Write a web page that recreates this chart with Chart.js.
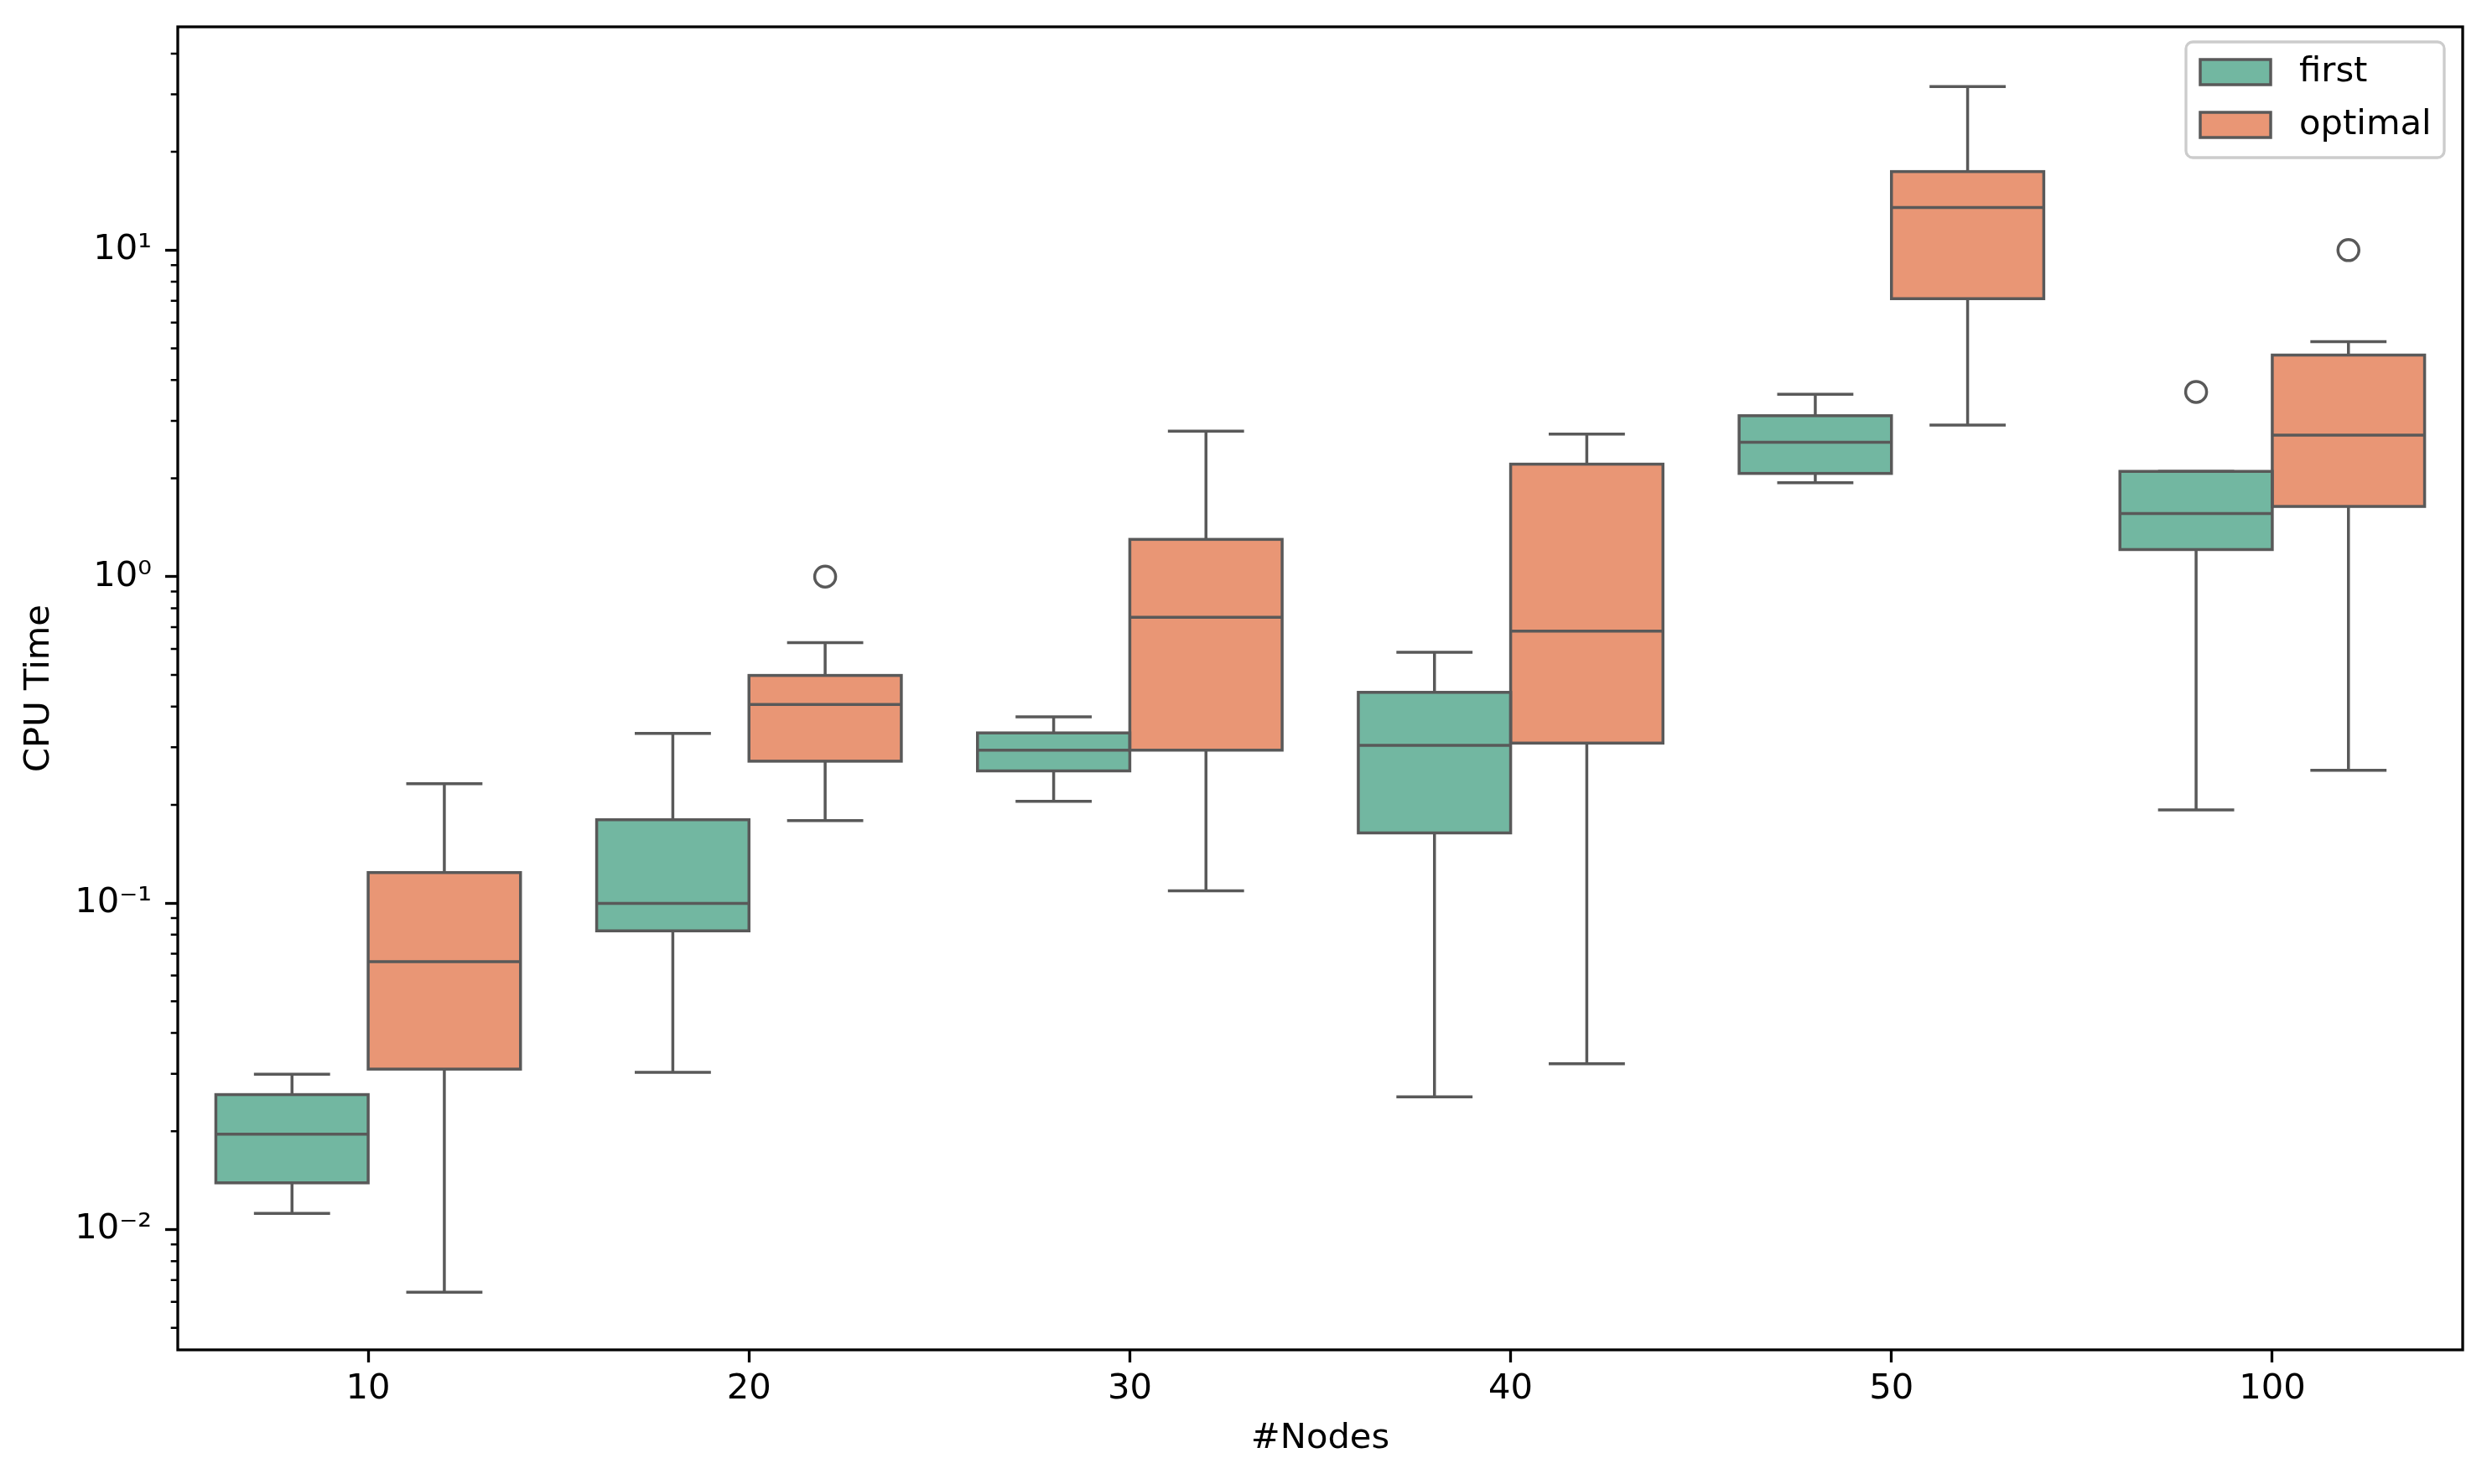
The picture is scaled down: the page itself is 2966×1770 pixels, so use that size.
<!DOCTYPE html>
<html>
<head>
<meta charset="utf-8">
<script src="https://cdn.jsdelivr.net/npm/chart.js@4.4.1/dist/chart.umd.min.js"></script>
<style>
  body { margin: 0; background: #fff; }
  canvas { display: block; }
</style>
</head>
<body>
<canvas id="cpuChart" width="2966" height="1770"></canvas>
<script>
// categories on the x axis
const categories = ['10', '20', '30', '40', '50', '100'];
const seriesNames = ['first', 'optimal'];

// "first" series: whisker low, Q1, median, Q3, whisker high, outliers
const firstLow  = [0.0112, 0.0303, 0.205, 0.0255, 1.94, 0.193];
const firstQ1   = [0.0139, 0.0822, 0.254, 0.164, 2.07, 1.21];
const firstMed  = [0.0196, 0.0998, 0.294, 0.304, 2.58, 1.56];
const firstQ3   = [0.0259, 0.180, 0.332, 0.442, 3.11, 2.10];
const firstHigh = [0.0299, 0.331, 0.372, 0.586, 3.62, 2.10];
const firstOut  = [[], [], [], [], [], [3.68]];

// "optimal" series
const optLow  = [0.00643, 0.179, 0.109, 0.0322, 2.91, 0.255];
const optQ1   = [0.0310, 0.272, 0.294, 0.309, 7.10, 1.64];
const optMed  = [0.0661, 0.406, 0.751, 0.681, 13.5, 2.71];
const optQ3   = [0.124, 0.498, 1.30, 2.21, 17.4, 4.77];
const optHigh = [0.232, 0.628, 2.79, 2.73, 31.7, 5.24];
const optOut  = [[], [1.0], [], [], [], [10.0]];

// y axis (log)
const yTickValues = [0.01, 0.1, 1, 10];
const yTickLabels = ['10\u207B\u00B2', '10\u207B\u00B9', '10\u2070', '10\u00B9'];
const yMin = 0.00428;
const yMax = 48.3;

const fillColors = ['#72b7a1', '#e99675'];
const lineColor = '#595959';
const fontSize = 41.7;
const fontFamily = '"DejaVu Sans", sans-serif';

const stats = [
    { low: firstLow, q1: firstQ1, med: firstMed, q3: firstQ3, high: firstHigh, out: firstOut },
    { low: optLow, q1: optQ1, med: optMed, q3: optQ3, high: optHigh, out: optOut }
];

// whiskers, box outlines, medians and fliers on top of the floating bars
const boxPlot = {
    id: 'boxPlot',
    afterDatasetsDraw(chart) {
        const ctx = chart.ctx;
        const y = chart.scales.y;
        ctx.save();
        ctx.strokeStyle = lineColor;
        ctx.lineWidth = 3.5;
        ctx.lineCap = 'butt';
        stats.forEach((s, di) => {
            chart.getDatasetMeta(di).data.forEach((bar, i) => {
                const x = bar.x;
                const half = bar.width / 2;
                const cap = half / 2;
                const pLow = y.getPixelForValue(s.low[i]);
                const pQ1 = y.getPixelForValue(s.q1[i]);
                const pMed = y.getPixelForValue(s.med[i]);
                const pQ3 = y.getPixelForValue(s.q3[i]);
                const pHigh = y.getPixelForValue(s.high[i]);
                ctx.beginPath();
                ctx.moveTo(x, pQ3); ctx.lineTo(x, pHigh);
                ctx.moveTo(x - cap, pHigh); ctx.lineTo(x + cap, pHigh);
                ctx.moveTo(x, pQ1); ctx.lineTo(x, pLow);
                ctx.moveTo(x - cap, pLow); ctx.lineTo(x + cap, pLow);
                ctx.stroke();
                ctx.strokeRect(x - half, pQ3, half * 2, pQ1 - pQ3);
                ctx.beginPath();
                ctx.moveTo(x - half, pMed); ctx.lineTo(x + half, pMed);
                ctx.stroke();
                s.out[i].forEach(v => {
                    ctx.beginPath();
                    ctx.arc(x, y.getPixelForValue(v), 12.5, 0, 2 * Math.PI);
                    ctx.stroke();
                });
            });
        });
        ctx.restore();
    }
};

// frame, minor log ticks and the legend
const frameAndLegend = {
    id: 'frameAndLegend',
    afterDraw(chart) {
        const ctx = chart.ctx;
        const a = chart.chartArea;
        const y = chart.scales.y;
        ctx.save();

        // minor ticks
        ctx.strokeStyle = '#000';
        ctx.lineWidth = 2.5;
        ctx.beginPath();
        for (let e = -3; e <= 1; e++) {
            for (let m = 2; m <= 9; m++) {
                const v = m * Math.pow(10, e);
                if (v < yMin || v > yMax) continue;
                const py = y.getPixelForValue(v);
                ctx.moveTo(a.left - 8.3, py);
                ctx.lineTo(a.left, py);
            }
        }
        ctx.stroke();

        // axes frame
        ctx.lineWidth = 3.3;
        ctx.strokeRect(a.left, a.top, a.right - a.left, a.bottom - a.top);

        // legend
        const fw = 308, fh = 138;
        const fx = a.right - 22 - fw, fy = a.top + 18;
        ctx.beginPath();
        ctx.roundRect(fx, fy, fw, fh, 8);
        ctx.fillStyle = 'rgba(255,255,255,0.8)';
        ctx.fill();
        ctx.strokeStyle = '#cccccc';
        ctx.lineWidth = 3.3;
        ctx.stroke();

        ctx.font = fontSize + 'px ' + fontFamily;
        ctx.textBaseline = 'middle';
        ctx.textAlign = 'left';
        seriesNames.forEach((name, i) => {
            const cy = fy + 36 + i * 63;
            ctx.fillStyle = fillColors[i];
            ctx.fillRect(fx + 17, cy - 15, 84, 30);
            ctx.strokeStyle = lineColor;
            ctx.lineWidth = 3.5;
            ctx.strokeRect(fx + 17, cy - 15, 84, 30);
            ctx.fillStyle = '#000';
            ctx.fillText(name, fx + 135, cy);
        });
        ctx.restore();
    }
};

const ctx = document.getElementById('cpuChart').getContext('2d');
const cpuChart = new Chart(ctx, {
    type: 'bar',
    data: {
        labels: categories,
        datasets: stats.map((s, di) => ({
            label: seriesNames[di],
            data: s.q1.map((q, i) => [q, s.q3[i]]),
            backgroundColor: fillColors[di],
            borderWidth: 0,
            categoryPercentage: 0.8,
            barPercentage: 1.0
        }))
    },
    options: {
        responsive: false,
        devicePixelRatio: 1,
        animation: false,
        events: [],
        layout: { padding: { left: 0, top: 32, right: 29, bottom: 0 } },
        plugins: {
            legend: { display: false },
            tooltip: { enabled: false }
        },
        scales: {
            x: {
                offset: true,
                grid: { display: true, offset: false, drawOnChartArea: false, tickLength: 15, tickWidth: 3.3, tickColor: '#000' },
                border: { display: false },
                ticks: { color: '#000', padding: 7, font: { family: fontFamily, size: fontSize } },
                title: { display: true, text: '#Nodes', color: '#000', padding: { top: 0, bottom: 29 }, font: { family: fontFamily, size: fontSize } },
                afterFit(scale) {
                    scale.height = 160;
                    scale.paddingLeft = 0;
                    scale.paddingRight = 0;
                }
            },
            y: {
                type: 'logarithmic',
                min: yMin,
                max: yMax,
                grid: { display: true, drawOnChartArea: false, tickLength: 15, tickWidth: 3.3, tickColor: '#000' },
                border: { display: false },
                afterBuildTicks(scale) {
                    scale.ticks = yTickValues.map(v => ({ value: v }));
                },
                ticks: {
                    color: '#000',
                    padding: 16,
                    font: { family: fontFamily, size: fontSize },
                    callback: (value) => {
                        const idx = yTickValues.findIndex(t => Math.abs(t - value) / t < 1e-6);
                        return idx >= 0 ? yTickLabels[idx] : '';
                    }
                },
                title: { display: true, text: 'CPU Time', color: '#000', padding: { top: 22, bottom: 0 }, font: { family: fontFamily, size: fontSize } },
                afterFit(scale) {
                    scale.width = 212;
                    scale.paddingTop = 0;
                    scale.paddingBottom = 0;
                }
            }
        }
    },
    plugins: [boxPlot, frameAndLegend]
});
</script>
</body>
</html>
